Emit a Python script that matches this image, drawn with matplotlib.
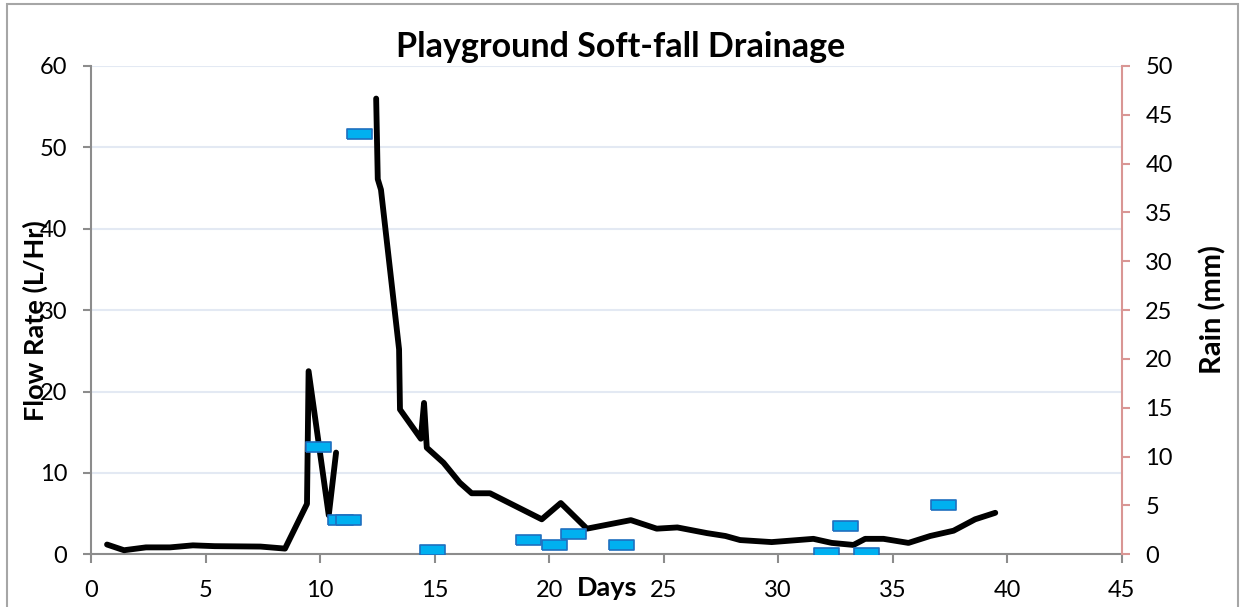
import numpy as np
import matplotlib
matplotlib.use("Agg")
import matplotlib.pyplot as plt
from matplotlib.patches import Rectangle

plt.rcParams['font.family'] = ['Lato', 'DejaVu Sans']

# ---- data ----
flow_days = [0.7, 1.44, 2.4, 3.45, 4.45, 5.4, 7.4, 8.47, 9.43, 9.5, 10.38, 10.7,
             None,
             12.45, 12.52, 12.66, 13.45, 13.49, 14.4, 14.54, 14.66, 15.39, 16.1,
             16.62, 17.42, 19.68, 20.51, 21.65, 23.57, 24.7, 25.6, 26.9, 27.7,
             28.34, 29.72, 31.54, 32.34, 33.29, 33.8, 34.6, 35.69, 36.64, 37.66,
             38.6, 39.48]
flow_rate = [1.2, 0.5, 0.85, 0.85, 1.1, 1.0, 0.95, 0.7, 6.2, 22.5, 4.8, 12.5,
             None,
             56.0, 46.1, 44.8, 25.2, 17.8, 14.2, 18.6, 13.1, 11.25, 8.8,
             7.5, 7.5, 4.3, 6.3, 3.15, 4.2, 3.15, 3.3, 2.6, 2.25,
             1.75, 1.5, 1.9, 1.4, 1.15, 1.9, 1.9, 1.4, 2.25, 2.9,
             4.3, 5.1]
rain_days = [9.9, 10.87, 11.22, 11.7, 14.9, 19.08, 20.2, 21.05, 23.14, 32.1, 32.9, 33.85, 37.2]
rain_mm = [11.0, 3.5, 3.5, 43.0, 0.4, 1.46, 1.0, 2.04, 1.0, 0.17, 2.9, 0.1, 5.0]

x_ticks = [0, 5, 10, 15, 20, 25, 30, 35, 40, 45]
flow_ticks = [0, 10, 20, 30, 40, 50, 60]
rain_ticks = [0, 5, 10, 15, 20, 25, 30, 35, 40, 45, 50]

title = "Playground Soft-fall Drainage"
x_label = "Days"
y_label = "Flow Rate (L/Hr)"
y2_label = "Rain (mm)"

# ---- figure ----
W, H = 1240, 607
fig = plt.figure(figsize=(W / 100, H / 100), dpi=100)

def fx(px):
    return px / W

def fy(py):
    return 1 - py / H

ax = fig.add_axes([fx(91), fy(554.3), fx(1121.7) - fx(91), fy(66) - fy(554.3)])
ax2 = ax.twinx()

fd = np.array([np.nan if v is None else v for v in flow_days], dtype=float)
fr = np.array([np.nan if v is None else v for v in flow_rate], dtype=float)
ax.plot(fd, fr, color='black', lw=4.2, solid_joinstyle='round', solid_capstyle='round', zorder=3)

rect_marker = [(-1.25, -0.5), (1.25, -0.5), (1.25, 0.5), (-1.25, 0.5), (-1.25, -0.5)]
ax2.plot(rain_days, rain_mm, linestyle='none', marker=rect_marker, markersize=18,
         markerfacecolor='#00B0F0', markeredgecolor='#1F6FBF', markeredgewidth=1.2, zorder=4)

ax.set_xlim(0, 45)
ax.set_ylim(0, 60)
ax2.set_ylim(0, 50)
ax.set_xticks(x_ticks)
ax.set_yticks(flow_ticks)
ax2.set_yticks(rain_ticks)

grid_c = '#E3E9F3'
ax.yaxis.grid(True, color=grid_c, lw=1.5)
ax.set_axisbelow(True)

gray = '#8C8C8C'
pink = '#D99694'
for s in ['top', 'right']:
    ax.spines[s].set_visible(False)
for s in ['top', 'left', 'bottom']:
    ax2.spines[s].set_visible(False)
ax.spines['left'].set_color(gray)
ax.spines['bottom'].set_color(gray)
ax.spines['left'].set_linewidth(1.5)
ax.spines['bottom'].set_linewidth(1.5)
ax2.spines['right'].set_color(pink)
ax2.spines['right'].set_linewidth(1.5)

ax.tick_params(axis='x', direction='out', length=6.5, width=1.5, color=gray,
               labelsize=17, pad=12, labelcolor='black')
ax.tick_params(axis='y', direction='out', length=6, width=1.5, color=gray,
               labelsize=17, pad=11, labelcolor='black')
ax2.tick_params(axis='y', direction='out', length=6, width=1.5, color=pink,
                labelsize=17, pad=11, labelcolor='black')

# texts
fig.text(fx(621), fy(56.7), title, ha='center', va='baseline', fontsize=24.5, fontweight='bold')
fig.text(fx(606.7), fy(596), x_label, ha='center', va='baseline', fontsize=19.5, fontweight='bold')
fig.text(fx(35), fy(321), y_label, ha='center', va='center', rotation=90, fontsize=19.5, fontweight='bold')
fig.text(fx(1213), fy(310), y2_label, ha='center', va='center', rotation=90, fontsize=21, fontweight='bold')

# chart border
fig.patches.append(Rectangle((fx(7), fy(640)), fx(1238) - fx(7), fy(4) - fy(640),
                             transform=fig.transFigure, fill=False, edgecolor='#A6A6A6',
                             lw=1.5, zorder=0))

fig.savefig('out.png', dpi=100)
